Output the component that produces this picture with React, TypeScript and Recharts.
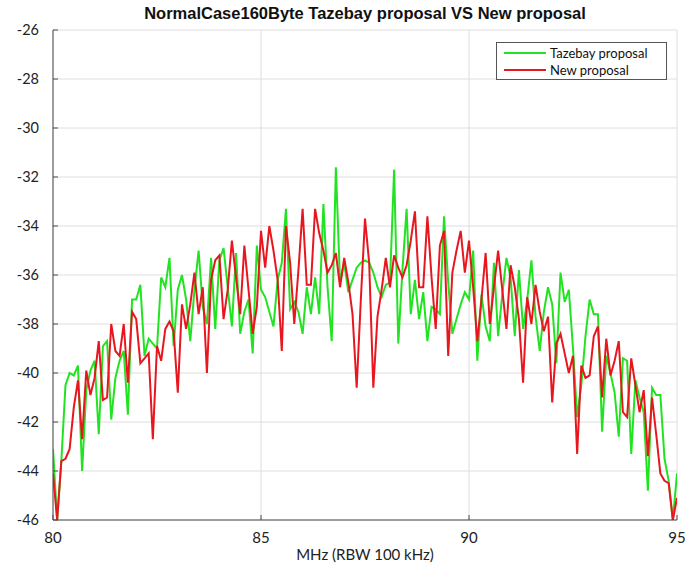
import React from 'react';
import { LineChart, Line, XAxis, YAxis, CartesianGrid, Legend } from 'recharts';

const TITLE = 'NormalCase160Byte Tazebay proposal VS New proposal';
const X_LABEL = 'MHz (RBW 100 kHz)';
const FREQ_START = 80;
const FREQ_STEP = 0.1;

const tazebay = [
  -43.1, -46, -43.6, -40.5, -40.0, -40.1, -39.7, -44.0, -40.7, -39.9,
  -39.5, -42.5, -38.9, -38.7, -41.9, -40.2, -39.5, -39.1, -41.7, -37.0,
  -37.0, -36.4, -39.3, -38.6, -38.8, -39.0, -36.1, -36.5, -35.3, -38.9,
  -36.6, -36.0, -37.0, -38.7, -36.6, -35.0, -37.3, -38.0, -35.3, -38.2,
  -35.4, -34.9, -36.5, -38.1, -35.1, -38.4, -37.5, -37.0, -39.2, -34.8,
  -36.6, -36.9, -37.5, -38.1, -36.2, -35.5, -33.3, -37.4, -37.1, -37.5,
  -38.4, -36.5, -37.6, -36.1, -37.6, -33.1, -36.5, -38.7, -31.6, -36.3,
  -35.5, -36.7, -36.2, -35.7, -35.5, -35.4, -35.5, -35.9, -36.5, -36.9,
  -36.4, -36.3, -31.7, -38.8, -35.8, -33.3, -37.6, -36.2, -37.8, -36.7,
  -38.7, -37.3, -37.4, -37.6, -33.6, -36.3, -38.4, -37.8, -37.2, -36.7,
  -37.0, -35.0, -39.5, -36.8, -38.1, -38.7, -35.5, -38.5, -36.8, -35.3,
  -36.1, -38.5, -35.8, -38.2, -37.0, -35.4, -37.7, -39.1, -37.5, -36.5,
  -37.2, -39.6, -35.9, -37.1, -36.6, -39.0, -41.8, -40.5, -38.5, -37.0,
  -37.6, -37.6, -42.4, -39.3, -40.0, -40.8, -42.6, -39.4, -39.5, -43.3,
  -40.3, -41.0, -41.6, -44.8, -40.6, -40.9, -40.9, -43.5, -44.4, -46, -44.1,
];

const newProposal = [
  -44.1, -46, -43.6, -43.5, -43.1, -41.4, -40.3, -42.7, -39.9, -40.9,
  -40.2, -38.7, -41.1, -41.0, -38.0, -39.1, -39.3, -38.0, -40.4, -37.5,
  -37.8, -39.6, -39.4, -39.2, -42.7, -38.9, -39.5, -38.2, -37.9, -38.3,
  -40.8, -37.2, -38.2, -37.2, -35.9, -37.6, -36.5, -40.0, -36.2, -35.4,
  -35.2, -37.8, -36.6, -34.6, -36.1, -37.6, -34.8, -36.6, -38.4, -37.3,
  -34.2, -35.7, -34.0, -35.0, -36.2, -39.1, -34.0, -35.5, -38.0, -35.8,
  -33.3, -36.4, -36.4, -33.3, -34.3, -35.0, -35.9, -35.6, -35.1, -36.5,
  -35.3, -36.3, -37.6, -40.6, -37.0, -33.7, -35.5, -40.6, -37.7, -36.6,
  -35.3, -36.5, -35.2, -35.7, -36.1, -35.6, -34.6, -33.4, -36.5, -36.5,
  -33.6, -36.1, -38.2, -34.8, -34.2, -39.3, -35.9, -35.0, -34.2, -35.9,
  -34.6, -36.5, -38.7, -37.0, -35.1, -38.0, -36.5, -35.0, -36.6, -38.2,
  -35.6, -36.5, -37.8, -40.4, -36.9, -38.0, -36.4, -37.5, -38.3, -37.7,
  -41.2, -38.8, -38.4, -39.2, -40.0, -39.3, -43.3, -39.7, -40.2, -40.1,
  -38.5, -38.1, -41.0, -38.6, -40.1, -39.5, -38.7, -41.6, -41.8, -39.4,
  -40.5, -41.6, -40.7, -43.4, -41.0, -42.5, -44.1, -44.4, -44.5, -46, -45.1,
];

const xTicks = [80, 85, 90, 95];
const yTicks = [-46, -44, -42, -40, -38, -36, -34, -32, -30, -28, -26];

const seriesInfo = [
  { key: 'tazebay', name: 'Tazebay proposal', color: '#22e322' },
  { key: 'newProposal', name: 'New proposal', color: '#e8171f' },
];

const data = tazebay.map((v, i) => ({
  f: Math.round((FREQ_START + i * FREQ_STEP) * 10) / 10,
  tazebay: v,
  newProposal: newProposal[i],
}));

const FONT = 'Lato, "Liberation Sans", sans-serif';
const AXIS_COLOR = '#4a4a4a';

const LegendBox = () => (
  <div
    style={{
      border: '1px solid #555',
      background: '#fff',
      width: 171,
      height: 38,
      boxSizing: 'border-box',
      padding: '1px 0 0 7px',
      fontFamily: FONT,
      fontSize: 13,
      color: '#111',
    }}
  >
    {seriesInfo.map((s) => (
      <div key={s.key} style={{ display: 'flex', alignItems: 'center', height: 17 }}>
        <div style={{ width: 42, height: 2, background: s.color, marginRight: 4 }} />
        <span>{s.name}</span>
      </div>
    ))}
  </div>
);

export default function App() {
  return (
    <div style={{ position: 'absolute', left: 0, top: 0, width: 689, height: 563, background: '#fff' }}>
      <div
        style={{
          position: 'absolute',
          left: 53,
          width: 624,
          top: 4,
          textAlign: 'center',
          fontFamily: '"Liberation Sans", Arial, sans-serif',
          fontWeight: 'bold',
          fontSize: 16.5,
          color: '#111',
        }}
      >
        {TITLE}
      </div>
      <LineChart
        width={689}
        height={563}
        data={data}
        margin={{ top: 30, right: 12, bottom: 0, left: 13 }}
      >
        <CartesianGrid stroke="#dedede" strokeWidth={1} />
        <XAxis
          dataKey="f"
          type="number"
          domain={[80, 95]}
          ticks={xTicks}
          allowDataOverflow
          height={43}
          stroke={AXIS_COLOR}
          tickSize={-5}
          tickMargin={17}
          tick={{ fill: '#222', fontSize: 15, fontFamily: FONT }}
          label={{ value: X_LABEL, position: 'insideBottom', offset: 3, fill: '#222', fontSize: 15, fontFamily: FONT }}
        />
        <XAxis
          xAxisId="top"
          orientation="top"
          type="number"
          domain={[80, 95]}
          ticks={xTicks}
          height={0}
          stroke={AXIS_COLOR}
          tickSize={-5}
          tick={false}
        />
        <YAxis
          type="number"
          domain={[-46, -26]}
          ticks={yTicks}
          allowDataOverflow
          width={40}
          stroke={AXIS_COLOR}
          tickSize={-5}
          tickMargin={19}
          tick={{ fill: '#222', fontSize: 14.5, fontFamily: FONT }}
        />
        <YAxis
          yAxisId="right"
          orientation="right"
          type="number"
          domain={[-46, -26]}
          ticks={yTicks}
          width={0}
          stroke={AXIS_COLOR}
          tickSize={-5}
          tick={false}
        />
        <Legend
          layout="horizontal"
          verticalAlign="middle"
          content={() => <LegendBox />}
          wrapperStyle={{ position: 'absolute', left: 496, top: 42, width: 171, height: 38 }}
        />
        {seriesInfo.map((s) => (
          <Line
            key={s.key}
            type="linear"
            dataKey={s.key}
            name={s.name}
            stroke={s.color}
            strokeWidth={2}
            dot={false}
            activeDot={false}
            isAnimationActive={false}
          />
        ))}
      </LineChart>
    </div>
  );
}
